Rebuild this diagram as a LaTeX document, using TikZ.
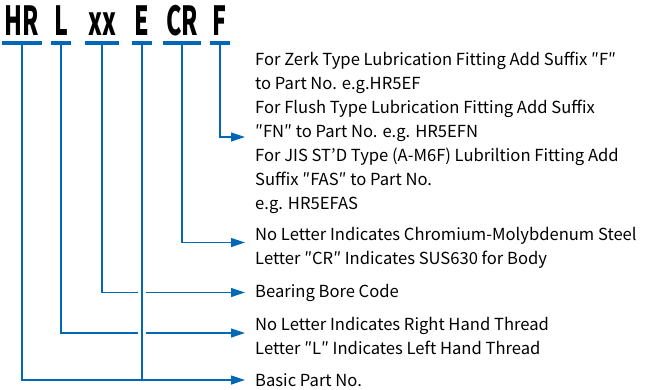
\documentclass[tikz,border=0pt]{standalone}
\usepackage{fontspec}
\setmainfont{Noto Sans CJK JP}
\newfontfamily\codefont[FakeStretch=0.58]{Noto Sans CJK JP}
\usetikzlibrary{arrows.meta}
\definecolor{lineblue}{RGB}{0,104,183}
\tikzset{
  codeletter/.style={font=\codefont\bfseries\fontsize{40}{40}\selectfont,
    anchor=base, inner xsep=2.5pt, inner ysep=0pt},
  bar/.style={lineblue, line width=3.5pt},
  lead/.style={lineblue, line width=1.2pt},
  leadarrow/.style={lead, -{Triangle[length=14pt,width=9pt]}},
  desc/.style={anchor=base west, align=left, inner xsep=10pt, inner ysep=0pt,
    font=\fontsize{16.6}{24}\selectfont},
}

\begin{document}
\begin{tikzpicture}[x=1pt,y=-1pt]
  \useasboundingbox (0,0) rectangle (649,389);
  % part number code
  \node[codeletter] (hr) at (22,35)  {HR};
  \node[codeletter] (l)  at (61,35)  {L};
  \node[codeletter] (xx) at (102,35) {xx};
  \node[codeletter] (e)  at (142,35) {E};
  \node[codeletter] (cr) at (182,35) {CR};
  \node[codeletter] (f)  at (220,35) {F};

  % explanations (base = last line)
  \node[desc] (fit) at (245,209) {For Zerk Type Lubrication Fitting Add Suffix ″F″\\
    to Part No. e.g.HR5EF\\
    For Flush Type Lubrication Fitting Add Suffix\\
    ″FN″ to Part No. e.g. HR5EFN\\
    For JIS ST’D Type (A-M6F) Lubriltion Fitting Add\\
    Suffix ″FAS″ to Part No.\\
    e.g. HR5EFAS};
  \node[desc] (steel) at (245,264) {No Letter Indicates Chromium-Molybdenum Steel\\
    Letter ″CR″ Indicates SUS630 for Body};
  \node[desc] (bore) at (245,297) {Bearing Bore Code};
  \node[desc] (thread) at (245,354) {No Letter Indicates Right Hand Thread\\
    Letter ″L″ Indicates Left Hand Thread};
  \node[desc] (basic) at (245,386) {Basic Part No.};

  \coordinate (fitin)    at ([yshift=72pt]fit.base west);
  \coordinate (steelin)  at ([yshift=21.5pt]steel.base west);
  \coordinate (borein)   at ([yshift=4.5pt]bore.base west);
  \coordinate (threadin) at ([yshift=21pt]thread.base west);
  \coordinate (basicin)  at ([yshift=6pt]basic.base west);

  % leaders
  \draw[leadarrow] ([yshift=-8pt]f.base) |- (fitin);
  \draw[leadarrow] ([yshift=-8pt]cr.base) |- (steelin);
  \draw[leadarrow] ([yshift=-8pt]xx.base) |- (borein);
  \draw[leadarrow] ([yshift=-8pt]l.base) |- (threadin);
  \draw[lead, preaction={draw=white, line width=8.5pt}]
    ([yshift=-8pt]e.base) -- (e.base |- basicin);
  \draw[leadarrow] ([yshift=-8pt]hr.base) |- (basicin);

  \foreach \c in {hr,l,xx,e,cr,f}
    \draw[bar] ([yshift=-8pt]\c.base west) -- ([yshift=-8pt]\c.base east);
\end{tikzpicture}
\end{document}
